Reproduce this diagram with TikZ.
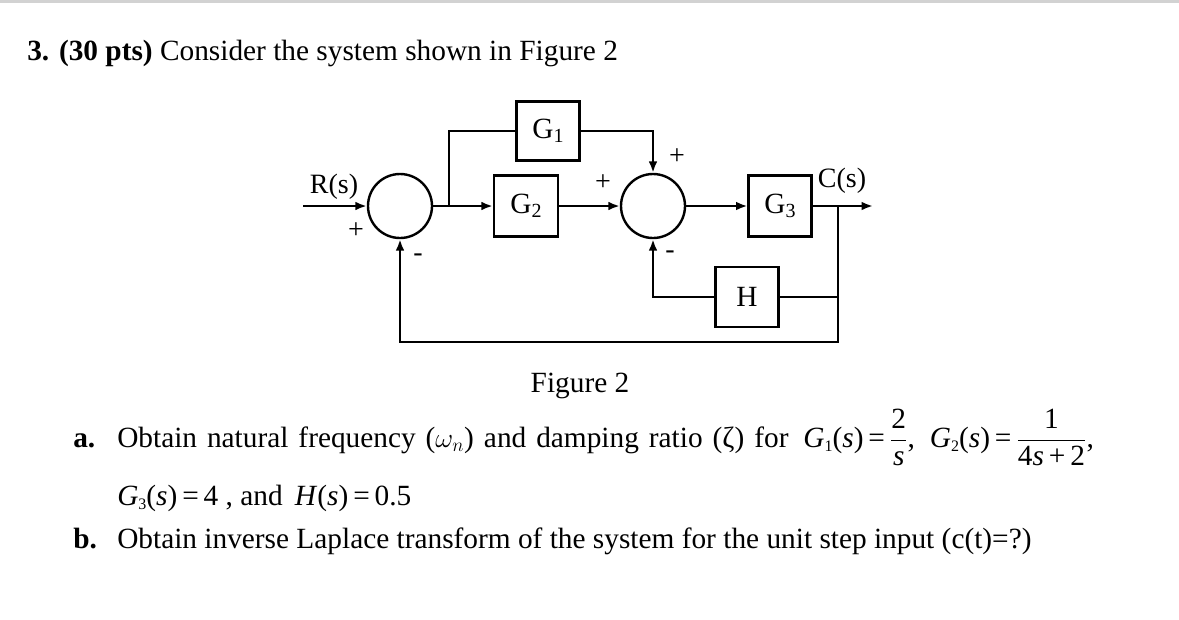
\documentclass[tikz,border=0pt]{standalone}
\usepackage{fontspec}
\usepackage{amsmath}
\setmainfont{Liberation Serif}
\usetikzlibrary{arrows.meta}
\newcommand\lowsub[1]{\raisebox{-0.35ex}{\fontsize{12}{12}\selectfont #1}}
\newcommand\blksub[1]{\raisebox{-0.3ex}{\fontsize{15}{15}\selectfont #1}}
\begin{document}
\begin{tikzpicture}[x=0.75pt,y=-0.75pt,
  wire/.style={line width=1.8pt},
  arr/.style={wire,-{Latex[length=8.5pt,width=6.5pt]}},
  blk/.style={draw,line width=1.8pt,inner sep=0pt,font=\fontsize{22}{24}\selectfont},
  sumc/.style={draw,circle,line width=1.8pt,minimum size=48pt,inner sep=0pt},
  sgn/.style={inner sep=0pt,font=\fontsize{21}{22}\selectfont},
  lbl/.style={inner sep=0pt,font=\fontsize{21}{23}\selectfont},
  txt/.style={inner sep=0pt,anchor=base west,font=\fontsize{22}{26}\selectfont}]
\useasboundingbox (0,0) rectangle (1179,619);
\fill[gray!35] (0,0) rectangle (1179,3);
% blocks
\node[sumc] (s1) at (400,206) {};
\node[sumc] (s2) at (653,206) {};
\node[blk,minimum width=47pt,minimum height=44pt] (g1) at (548,131) {G\blksub{1}};
\node[blk,minimum width=48pt,minimum height=46pt] (g2) at (526,206) {G\blksub{2}};
\node[blk,minimum width=47pt,minimum height=46pt] (g3) at (780,206) {G\blksub{3}};
\node[blk,minimum width=47pt,minimum height=45pt] (h) at (747,297) {H};
\coordinate (in) at (303,206);
\coordinate (br) at (449,206);
\coordinate (pick) at (838,206);
\coordinate (out) at (873,206);
\coordinate (bot) at (838,342);
% connectors
\draw[arr] (in) -- (s1.west);
\draw[wire] (s1.east) -- (br);
\draw[arr] (br) -- (g2.west);
\draw[wire] (br) |- (g1.west);
\draw[arr] (g1.east) -| (s2.north);
\draw[arr] (g2.east) -- (s2.west);
\draw[arr] (s2.east) -- (g3.west);
\draw[arr] (g3.east) -- (out);
\draw[wire] (pick) |- (h.east);
\draw[arr] (h.west) -| (s2.south);
\draw[arr] (pick) -- (bot) -| (s1.south);
% labels
\node[lbl] (rs) at (334,187) {R(s)};
\node[lbl] (cs) at (842,181) {C(s)};
\node[sgn] (p1) at (356,231) {+};
\node[sgn] (m1) at (418,258) {-};
\node[sgn] (p2) at (603,183) {+};
\node[sgn] (p3) at (677,157) {+};
\node[sgn] (m2) at (670,255) {-};
% text
\node[txt] (title) at (27,60) {\textbf{3. (30 pts)} Consider the system shown in Figure 2};
\node[txt,anchor=base] (fig) at (580,392) {Figure 2};
\node[txt] (la) at (73,447) {\textbf{a.}};
\node[txt] (ta) at (117,447) {\spaceskip=0.34em Obtain natural frequency (\ensuremath{\omega_n}) and damping ratio (ζ) for \,\textit{G}\lowsub{1}(\textit{s})\,=\,$\dfrac{\mbox{2}}{\mbox{\textit{s}}}$, \,\textit{G}\lowsub{2}(\textit{s})\,=\,$\dfrac{\mbox{1}}{\mbox{4\textit{s}\,+\,2}}$,};
\node[txt] (ta2) at (117,505) {\textit{G}\lowsub{3}(\textit{s})\,=\,4 , and \,\textit{H}(\textit{s})\,=\,0.5};
\node[txt] (lb) at (73,548) {\textbf{b.}};
\node[txt] (tb) at (117,548) {Obtain inverse Laplace transform of the system for the unit step input (c(t)=?)};
\end{tikzpicture}
\end{document}
